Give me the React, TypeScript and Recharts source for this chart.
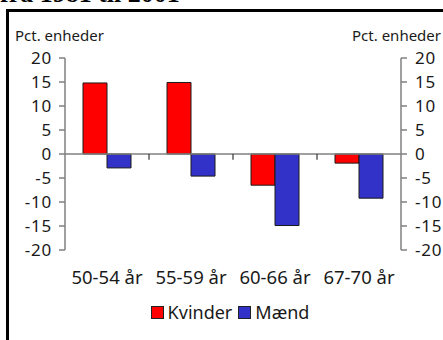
import { BarChart, Bar, XAxis, YAxis, Legend, ReferenceLine } from "recharts";

const CATEGORIES = ["50-54 år", "55-59 år", "60-66 år", "67-70 år"];
const KVINDER = [14.8, 14.9, -6.5, -1.9];
const MAEND = [-2.9, -4.6, -14.9, -9.2];
const Y_TICKS = [-20, -15, -10, -5, 0, 5, 10, 15, 20];

const SERIES = [
  { key: "Kvinder", color: "#ff0000" },
  { key: "Mænd", color: "#3232c8" },
];

const FONT = "'Noto Sans', sans-serif";
const AXIS_GREY = "#808080";

const data = CATEGORIES.map((cat, i) => ({ cat, Kvinder: KVINDER[i], Mænd: MAEND[i] }));

function LegendContent() {
  return (
    <div
      style={{
        height: 50,
        display: "flex",
        justifyContent: "center",
        alignItems: "flex-start",
        paddingTop: 10,
        boxSizing: "border-box",
        fontFamily: FONT,
        fontSize: 18,
        color: "#1a1a1a",
      }}
    >
      {SERIES.map((s) => (
        <span key={s.key} style={{ display: "flex", alignItems: "center", marginRight: 6 }}>
          <span
            style={{
              width: 11,
              height: 11,
              background: s.color,
              border: "1px solid #222",
              marginRight: 4,
              display: "inline-block",
            }}
          />
          {s.key}
        </span>
      ))}
    </div>
  );
}

export default function App() {
  const tick = { fontSize: 17, fill: "#1a1a1a", fontFamily: FONT, letterSpacing: 0.8 };
  const axisStyle = { stroke: AXIS_GREY, strokeWidth: 1.5 };

  return (
    <div
      style={{
        position: "absolute",
        left: 0,
        top: 0,
        width: 443,
        height: 340,
        overflow: "hidden",
        background: "#fff",
      }}
    >
      <div
        style={{
          position: "absolute",
          left: 0,
          top: -19.5,
          fontFamily: "'Liberation Serif', serif",
          fontWeight: "bold",
          fontSize: 26,
          lineHeight: "26px",
          whiteSpace: "nowrap",
        }}
      >
        fra 1981 til 2001
      </div>
      <div
        style={{
          position: "absolute",
          left: 6,
          top: 9,
          width: 500,
          height: 400,
          border: "3px solid #000",
        }}
      />
      <div style={{ position: "absolute", left: 15, top: 25, fontFamily: FONT, fontSize: 15, color: "#1a1a1a" }}>
        Pct. enheder
      </div>
      <div style={{ position: "absolute", right: 2, top: 25, fontFamily: FONT, fontSize: 15, color: "#1a1a1a" }}>
        Pct. enheder
      </div>
      <div style={{ position: "absolute", left: 0, top: 0 }}>
        <BarChart
          width={443}
          height={340}
          data={data}
          margin={{ top: 58, right: 0, bottom: 0, left: 0 }}
          barGap={0}
          barSize={24}
        >
          <XAxis
            dataKey="cat"
            axisLine={false}
            tickLine={false}
            tickSize={0}
            tickMargin={21}
            height={40}
            tick={{ ...tick, fontSize: 18.5, letterSpacing: 0 }}
            interval={0}
          />
          <YAxis
            yAxisId="l"
            orientation="left"
            width={65}
            domain={[-20, 20]}
            ticks={Y_TICKS}
            tickSize={6}
            tickMargin={7}
            interval={0}
            axisLine={axisStyle}
            tickLine={axisStyle}
            tick={tick}
          />
          <YAxis
            yAxisId="r"
            orientation="right"
            type="number"
            width={42}
            domain={[-20, 20]}
            allowDataOverflow
            ticks={Y_TICKS}
            tickSize={6}
            tickMargin={8}
            interval={0}
            axisLine={axisStyle}
            tickLine={axisStyle}
            tick={tick}
          />
          <ReferenceLine yAxisId="l" y={0} stroke={AXIS_GREY} strokeWidth={1.5} />
          {CATEGORIES.slice(1).map((c) => (
            <ReferenceLine
              key={c}
              yAxisId="l"
              position="start"
              ifOverflow="visible"
              segment={[
                { x: c, y: 0 },
                { x: c, y: -1.2 },
              ]}
              stroke="#333"
              strokeWidth={1.2}
            />
          ))}
          <Legend content={<LegendContent />} wrapperStyle={{ left: 65, width: 336 }} />
          {SERIES.map((s) => (
            <Bar
              key={s.key}
              yAxisId="l"
              dataKey={s.key}
              fill={s.color}
              stroke="#1a1a1a"
              strokeWidth={1}
              isAnimationActive={false}
            />
          ))}
        </BarChart>
      </div>
    </div>
  );
}
